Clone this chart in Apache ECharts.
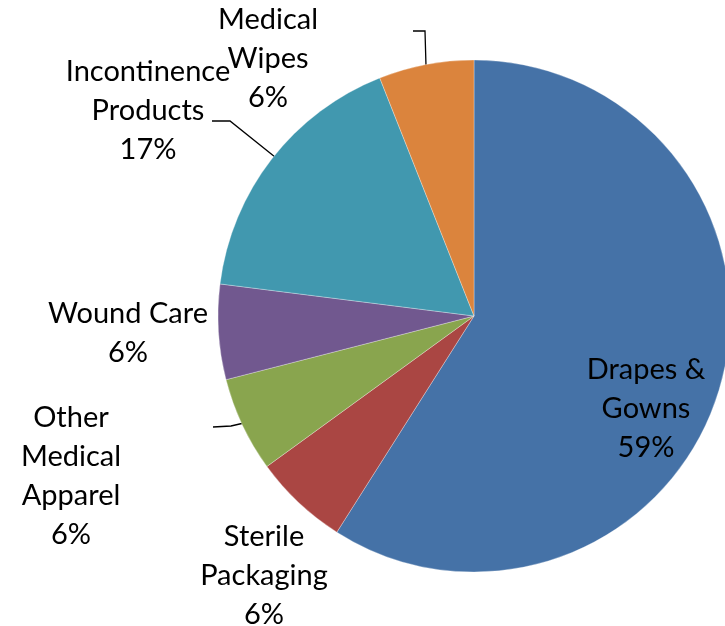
<!DOCTYPE html>
<html>
<head>
<meta charset="utf-8">
<style>
  html, body { margin: 0; padding: 0; background: #fff; }
  #chart { width: 725px; height: 626px; }
</style>
<script src="https://cdn.jsdelivr.net/npm/echarts@6/dist/echarts.min.js"></script>
</head>
<body>
<div id="chart"></div>
<script>
// Market share by product segment (percent), clockwise from 12 o'clock
const categories = ['Drapes &\nGowns', 'Sterile\nPackaging', 'Other\nMedical\nApparel', 'Wound Care', 'Incontinence\nProducts', 'Medical\nWipes'];
const shares = [59, 6, 6, 6, 17, 6];
const colors = ['#4572A7', '#AA4643', '#89A54E', '#71588F', '#4198AF', '#DB843D'];

// Label placement (text block centre) and leader-line points for each slice
const labelPlacement = [
  { x: 646, y: 409, line: null },
  { x: 264, y: 576, line: null },
  { x: 71,  y: 476, line: [[213, 427], [231, 426], [244, 423]] },
  { x: 128, y: 333, line: null },
  { x: 148, y: 111, line: [[212, 121], [230, 121], [275, 157]] },
  { x: 268, y: 59,  line: [[413, 31], [425, 31], [426, 66]] }
];

const chart = echarts.init(document.getElementById('chart'), null, { renderer: 'canvas' });

const data = categories.map((name, i) => ({
  name: name,
  value: shares[i],
  itemStyle: { color: colors[i] },
  labelLine: { show: !!labelPlacement[i].line }
}));

chart.setOption({
  animation: false,
  backgroundColor: '#ffffff',
  series: [{
    type: 'pie',
    center: [474, 316],
    radius: 256,
    startAngle: 90,
    clockwise: true,
    avoidLabelOverlap: false,
    data: data,
    itemStyle: { borderColor: 'rgba(255,255,255,0.6)', borderWidth: 0.5 },
    label: {
      show: true,
      position: 'outside',
      formatter: p => p.name + '\n' + p.value + '%',
      fontFamily: 'Lato, "Open Sans", sans-serif',
      fontSize: 29,
      lineHeight: 39,
      color: '#000',
      align: 'center'
    },
    labelLine: {
      show: true,
      lineStyle: { color: '#000', width: 1.3 }
    },
    labelLayout: function (params) {
      const p = labelPlacement[params.dataIndex];
      const out = { x: p.x, y: p.y, align: 'center', verticalAlign: 'middle' };
      if (p.line) out.labelLinePoints = p.line;
      return out;
    }
  }]
});
</script>
</body>
</html>
